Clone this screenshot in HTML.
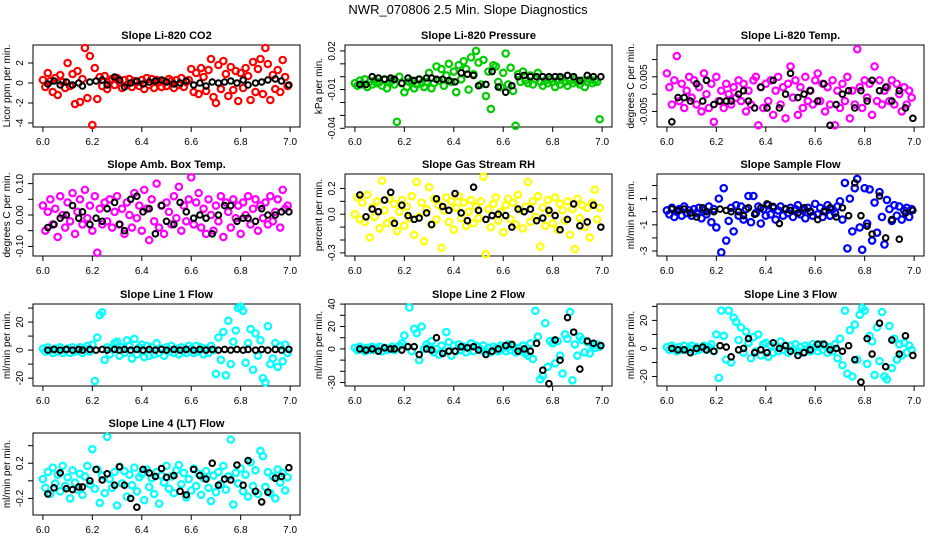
<!DOCTYPE html>
<html><head><meta charset="utf-8"><style>
html,body{margin:0;padding:0;background:#fff;}
svg{display:block;font-family:"Liberation Sans",Arial,sans-serif;}
</style></head><body>
<svg id="chart" width="936" height="540" viewBox="0 0 936 540" xmlns="http://www.w3.org/2000/svg">
<rect width="936" height="540" fill="#fff"/>
<text x="468" y="14" text-anchor="middle" font-size="13">NWR_070806  2.5 Min. Slope Diagnostics</text>
</svg>
<script>
// shared time axis (hours) for colored and black series
const T = [6.00,6.01,6.02,6.03,6.04,6.05,6.06,6.07,6.08,6.09,6.10,6.11,6.12,6.13,6.14,6.15,6.16,6.17,6.18,6.19,6.20,6.21,6.22,6.23,6.24,6.25,6.26,6.27,6.28,6.29,6.30,6.31,6.32,6.33,6.34,6.35,6.36,6.37,6.38,6.39,6.40,6.41,6.42,6.43,6.44,6.45,6.46,6.47,6.48,6.49,6.50,6.51,6.52,6.53,6.54,6.55,6.56,6.57,6.58,6.59,6.60,6.61,6.62,6.63,6.64,6.65,6.66,6.67,6.68,6.69,6.70,6.71,6.72,6.73,6.74,6.75,6.76,6.77,6.78,6.79,6.80,6.81,6.82,6.83,6.84,6.85,6.86,6.87,6.88,6.89,6.90,6.91,6.92,6.93,6.94,6.95,6.96,6.97,6.98,6.99];
const TB = [6.02,6.045,6.07,6.095,6.12,6.145,6.16,6.19,6.215,6.24,6.26,6.29,6.31,6.33,6.355,6.38,6.405,6.43,6.455,6.48,6.50,6.53,6.555,6.58,6.61,6.635,6.66,6.685,6.71,6.735,6.76,6.785,6.81,6.83,6.86,6.885,6.91,6.94,6.965,6.995];
const xTicks = [6.0,6.2,6.4,6.6,6.8,7.0];
const xTickLabels = ["6.0","6.2","6.4","6.6","6.8","7.0"];

const co2C = [0.3,-0.4,1.0,0.2,-0.9,0.5,-1.2,0.8,0.1,-0.5,2.0,-0.3,0.9,-2.1,1.2,-1.9,0.4,3.5,-1.5,2.7,-4.2,1.5,-1.6,0.6,-0.3,0.7,-0.6,0.2,0.4,-0.2,0.5,0.1,-0.5,0.3,-0.2,0.4,-0.4,0.2,0.1,-0.3,0.3,-0.6,0.5,-0.2,0.4,-0.5,0.3,0.1,-0.4,0.2,-0.3,0.4,0.2,-0.5,0.3,-0.2,0.5,-0.4,0.1,0.3,1.4,-0.9,1.0,-1.1,1.5,0.6,-0.8,1.3,2.4,-1.4,-2.0,1.8,-0.6,2.2,0.9,-1.3,1.6,-0.7,1.2,-1.8,1.0,-0.5,1.5,0.7,-1.7,2.1,-0.9,1.4,2.4,-1.1,3.5,1.9,-1.7,0.8,-0.6,1.3,-0.9,2.3,0.6,-0.3];
const co2B = [-0.1,0.2,-0.2,0.1,-0.2,0,-0.3,0.1,0.2,0.3,-0.2,0.6,0.3,-0.4,0,0.2,-0.1,0.1,0.2,0.3,0.1,-0.1,0,0.2,-0.2,0,-0.3,0.1,0,0.1,0.2,0,0.3,-0.2,0,0.1,0.3,0.4,0.2,-0.2];
const presC = [-0.005,-0.007,-0.003,-0.006,-0.002,-0.008,-0.004,-0.006,-0.003,-0.005,-0.004,-0.007,-0.002,-0.009,-0.004,-0.003,-0.006,-0.035,0.0,-0.005,-0.012,-0.008,-0.004,-0.003,-0.009,-0.006,-0.002,-0.005,-0.008,-0.004,0.003,-0.009,-0.005,0.008,-0.003,0.006,-0.007,0.001,0.010,-0.004,0.004,-0.012,0.009,-0.002,0.012,0.006,-0.010,0.015,0.002,0.020,0.011,-0.006,0.013,-0.015,0.004,-0.025,0.009,0.008,-0.004,-0.008,0.003,0.018,-0.006,0.007,-0.011,-0.038,0.002,-0.004,0.004,-0.003,-0.005,0.001,-0.006,-0.002,0.003,-0.004,-0.007,-0.003,-0.005,-0.002,-0.004,-0.008,-0.003,-0.006,-0.001,-0.004,-0.007,-0.003,-0.005,-0.002,-0.004,-0.006,-0.003,-0.008,-0.004,-0.002,-0.005,-0.003,-0.004,-0.033];
const presB = [-0.006,-0.006,0.0,-0.001,-0.002,-0.001,-0.002,-0.005,-0.001,-0.003,-0.002,-0.001,-0.001,-0.002,-0.002,-0.003,-0.004,0.003,0.002,0.001,-0.007,-0.006,0.004,-0.008,-0.012,-0.007,0.0,0.001,0.0,0.0,0.0,0.0,0.0,0.0,0.001,0.0,-0.003,0.001,0.0,0.0];
const ltC = [0.006,0.002,-0.003,0.004,0.011,-0.002,0.003,-0.004,0.001,0.005,-0.001,0.004,-0.003,0.002,-0.005,0.006,0.000,-0.004,0.003,-0.008,0.005,-0.002,0.001,-0.004,0.003,0.000,-0.003,0.002,-0.001,0.004,-0.002,0.003,-0.005,0.001,-0.003,0.004,0.005,-0.009,0.002,-0.004,0.003,-0.002,0.004,-0.006,0.001,0.005,-0.003,0.002,-0.007,0.003,0.008,-0.001,0.004,-0.006,0.002,-0.004,0.005,-0.002,0.001,-0.003,0.004,0.006,-0.002,0.003,-0.005,0.002,-0.003,0.004,-0.009,0.001,-0.004,0.003,-0.002,0.005,-0.007,0.001,-0.003,0.013,0.002,-0.004,0.004,-0.001,0.003,-0.006,0.008,-0.002,0.004,-0.003,0.001,0.002,-0.002,0.004,-0.003,0.003,0.000,-0.005,0.002,-0.003,0.001,-0.001];
const ltB = [-0.008,-0.001,-0.001,-0.002,0.003,-0.002,0.004,-0.003,-0.002,-0.002,-0.002,0.0,0.001,-0.002,-0.004,0.002,-0.004,0.004,-0.004,0.0,0.006,-0.001,0.0,0.001,-0.002,0.003,-0.009,-0.003,0.0,0.001,-0.004,0.001,-0.002,0.004,0.001,0.002,-0.002,0.001,-0.004,-0.007];
const ambC = [0.03,-0.05,0.01,0.05,-0.03,0.02,-0.07,0.06,0.00,-0.04,0.04,-0.02,0.07,-0.06,0.01,0.05,-0.03,0.08,-0.01,0.03,-0.05,0.06,-0.12,0.02,-0.03,0.04,-0.02,0.05,-0.04,0.01,0.06,-0.03,0.02,-0.06,0.04,0.00,-0.04,0.07,-0.01,0.03,-0.05,0.08,0.02,-0.08,0.05,-0.02,0.10,-0.04,0.03,-0.06,0.04,0.01,-0.03,0.06,-0.01,0.09,-0.05,0.03,-0.02,0.05,0.12,-0.03,0.04,0.07,-0.04,0.02,-0.06,0.05,0.00,-0.05,0.03,-0.02,0.06,-0.07,0.04,0.01,-0.04,0.05,-0.01,0.03,-0.06,0.04,0.00,0.06,-0.03,0.02,0.05,-0.05,0.03,-0.01,0.04,-0.03,0.06,-0.02,0.01,0.05,-0.04,0.08,0.02,0.03];
const ambB = [-0.04,-0.03,-0.01,0.0,0.03,-0.01,0.01,-0.03,-0.01,-0.02,0.02,0.04,-0.03,-0.05,0.05,0.06,0.01,0.02,-0.06,0.03,-0.02,-0.03,0.04,0.01,-0.01,0.0,-0.01,-0.06,0.0,0.03,0.03,-0.02,-0.01,-0.01,-0.02,0.02,0.0,0.0,0.01,0.01];
const rhC = [0.0,0.13,-0.04,0.09,-0.06,0.15,-0.18,0.05,-0.02,0.10,-0.11,0.26,0.03,-0.07,0.12,-0.05,0.08,-0.13,0.02,0.11,-0.09,0.06,-0.03,0.14,-0.16,0.25,-0.02,0.09,-0.21,0.04,0.21,-0.08,0.12,-0.04,0.07,-0.26,0.03,0.13,-0.06,0.10,-0.12,0.05,0.14,-0.03,0.09,-0.09,0.02,0.11,-0.07,0.06,-0.03,0.10,0.29,-0.31,0.04,-0.10,0.08,0.13,-0.05,0.02,-0.14,0.07,0.12,-0.04,0.09,-0.08,0.15,0.03,-0.11,0.06,0.25,-0.06,0.10,-0.02,0.14,-0.25,0.05,-0.09,0.11,0.01,-0.07,0.13,-0.12,0.08,0.03,-0.05,0.10,-0.16,0.04,-0.27,0.12,-0.03,0.07,-0.10,0.05,-0.18,0.09,0.19,-0.04,0.05];
const rhB = [0.15,-0.02,0.04,0.02,0.11,0.17,-0.07,0.07,-0.01,-0.04,-0.03,0.01,-0.08,0.12,0.06,0.03,0.16,0.01,-0.05,0.21,0.03,-0.04,-0.01,0.0,-0.01,-0.10,0.04,0.02,0.04,-0.05,-0.03,0.03,-0.01,-0.12,-0.04,0.08,-0.09,-0.06,0.07,-0.10];
const sfC = [0.1,-0.2,0.3,-0.4,0.0,0.2,-0.3,0.4,-0.1,0.1,-0.3,0.2,-0.1,0.3,-0.5,0.1,-0.2,0.4,-0.8,0.2,-1.2,1.0,-3.1,1.8,-2.2,-0.7,0.3,-1.5,0.5,-0.3,0.4,-0.6,0.2,1.2,-0.8,1.2,-0.1,0.4,-0.9,0.2,-0.3,0.5,-0.2,0.3,-0.6,0.1,0.4,-0.3,0.2,-0.1,0.3,-0.4,0.2,0.5,-0.2,0.1,-0.5,0.3,0.0,-0.3,0.6,-0.2,0.3,-0.4,0.1,0.5,-0.3,0.2,-0.1,0.4,0.8,-0.6,2.2,-2.8,1.0,-1.5,1.8,2.5,-1.2,-2.9,1.8,-0.9,1.7,-2.2,0.7,-1.6,1.5,-0.4,-2.5,0.9,0.2,-0.7,0.5,-0.3,0.4,-0.6,0.1,0.3,-0.4,0.2];
const sfB = [0.2,0.1,0.2,-0.1,-0.4,0.3,0.0,0.0,0.2,0.1,0.0,0.0,-0.3,0.3,-0.2,0.3,0.6,0.4,-0.9,0.2,0.1,-0.1,0.3,0.0,-0.6,0.0,0.3,-0.4,0.3,-0.3,2.2,-0.3,-1.1,-1.7,1.2,-2.0,-0.6,-2.1,-0.1,0.1];
const l1C = [1,-1,2,0,-2,1,-1,2,-2,0,1,-2,2,-1,0,2,-2,1,3,-1,4,-22,9,25,27,-7,2,-3,1,5,6,-4,2,-2,7,3,-6,8,-3,2,4,-5,3,-4,2,-3,5,-2,1,-4,2,-1,3,-2,1,-3,2,0,-2,3,1,-2,3,-1,2,-3,1,-2,3,0,-17,9,-7,13,-18,21,-10,6,14,30,31,28,-9,5,15,-14,12,-4,7,-20,-23,17,-10,-6,5,-12,3,-8,4,-2];
const l1B = [0,0.5,0,0.5,0,0.5,0,0.5,0,0.5,0,0.5,0,0.5,0,0.5,0,0.5,0,0.5,0,0.5,0,0.5,0,0.5,0,0.5,0,0.5,0,0.5,0,0.5,0,0.5,0,0.5,0,0.5];
const l2C = [1,-1,2,0,-2,1,-1,2,-1,0,2,-2,1,-1,0,2,-1,1,3,5,12,2,37,-2,18,14,-10,20,0,4,2,7,-3,0,-5,3,-2,15,6,-6,3,-2,4,-1,2,-3,1,5,-2,3,2,-1,3,-2,1,-3,2,0,-2,3,1,-2,4,-1,2,-3,1,-2,3,-4,-6,5,-9,34,11,-27,-24,23,-16,7,5,-13,7,-6,-22,13,9,33,-28,4,-6,11,8,-3,6,-4,3,1,4,2];
const l2B = [0,-1,0,-2,1,0,0,-1,2,2,-5,0,-1,10,-4,-2,-2,2,1,2,-1,-5,-2,0,3,4,-2,0,-2,5,-19,-31,8,-10,28,15,-18,7,5,3];
const l3C = [1,-1,2,0,-2,1,-1,2,-1,0,2,-2,1,-1,0,2,-1,1,3,-2,10,-21,27,9,-8,27,-10,22,19,6,15,-3,12,4,-7,8,-2,10,-5,3,4,-6,2,-3,1,-2,5,-1,2,-3,2,-1,3,-2,1,-3,2,0,-2,3,1,-2,3,-1,2,-3,1,-2,3,-7,7,-12,27,-18,13,-20,17,-8,24,29,27,-11,9,5,-19,15,-9,26,-20,-22,16,-14,7,-8,3,-5,4,-3,2,-1];
const l3B = [0,-1,-1,-3,0,1,-1,-2,2,1,-6,-1,0,7,-3,-1,-3,4,0,2,-2,-5,-3,-1,3,3,-1,0,-2,2,-8,-24,7,-4,18,-13,6,-4,9,-5];
const l4C = [0.02,-0.08,0.10,-0.15,0.15,-0.03,0.07,-0.12,0.17,-0.06,0.04,-0.20,0.12,-0.02,-0.10,0.08,-0.16,0.05,0.17,-0.04,0.36,-0.09,0.13,-0.25,0.06,-0.14,0.50,0.02,-0.08,0.10,-0.28,0.16,-0.03,0.11,-0.18,0.07,-0.05,0.15,-0.12,0.04,0.08,-0.22,0.13,-0.07,0.03,-0.15,0.10,-0.26,0.06,-0.02,0.17,-0.09,0.05,-0.14,0.12,0.18,-0.04,0.09,-0.19,0.02,-0.11,0.14,-0.06,0.08,-0.16,0.03,0.11,-0.08,-0.23,0.06,-0.13,0.10,-0.04,0.17,-0.10,0.05,0.47,-0.27,0.09,-0.03,0.14,-0.12,0.07,-0.18,0.21,-0.06,0.12,-0.15,0.34,0.28,-0.07,0.10,-0.14,0.05,-0.20,0.13,-0.02,0.09,-0.11,0.04];
const l4B = [-0.15,-0.08,0.09,-0.09,-0.10,-0.07,-0.07,0.00,0.13,0.01,0.08,-0.05,0.16,-0.05,-0.20,-0.30,0.13,0.09,0.05,0.14,0.04,0.06,-0.12,-0.16,0.13,0.06,0.02,0.20,-0.05,0.02,0.01,0.18,-0.05,0.23,-0.12,-0.24,-0.13,0.03,0.05,0.15];

const panels = [
 {name:"co2",title:"Slope Li-820 CO2",ylab:"Licor ppm per min.",col:0,row:0,color:"#ff0000",c:co2C,b:co2B,ymin:-4.4,ymax:3.8,ticks:[-4,-2,0,2],labels:["-4","-2","0","2"]},
 {name:"pressure",title:"Slope Li-820 Pressure",ylab:"kPa per min.",col:1,row:0,color:"#00cc00",c:presC,b:presB,ymin:-0.039,ymax:0.0246,ticks:[0.02,0.01,0,-0.01,-0.02,-0.03,-0.04],labels:["0.02","","","-0.01","","","-0.04"]},
 {name:"li-temp",title:"Slope Li-820 Temp.",ylab:"degrees C per min.",col:2,row:0,color:"#ff00ff",c:ltC,b:ltB,ymin:-0.0095,ymax:0.0142,ticks:[0.01,0.005,0,-0.005],labels:["","0.005","","-0.005"]},
 {name:"amb-temp",title:"Slope Amb. Box Temp.",ylab:"degrees C per min.",col:0,row:1,color:"#ff00ff",c:ambC,b:ambB,ymin:-0.1306,ymax:0.1306,ticks:[0.1,0.05,0,-0.05,-0.1],labels:["0.10","","0.00","","-0.10"]},
 {name:"rh",title:"Slope Gas Stream RH",ylab:"percent per min.",col:1,row:1,color:"#ffff00",c:rhC,b:rhB,ymin:-0.324,ymax:0.312,ticks:[0.2,0.1,0,-0.1,-0.2,-0.3],labels:["0.2","","0.0","","","-0.3"]},
 {name:"sample-flow",title:"Slope Sample Flow",ylab:"ml/min per min.",col:2,row:1,color:"#0000ff",c:sfC,b:sfB,ymin:-3.38,ymax:2.88,ticks:[2,1,0,-1,-2,-3],labels:["","1","","-1","","-3"]},
 {name:"line1",title:"Slope Line 1 Flow",ylab:"ml/min per min.",col:0,row:2,color:"#00ffff",c:l1C,b:l1B,ymin:-25.6,ymax:32.9,ticks:[30,20,10,0,-10,-20],labels:["","20","","0","","-20"]},
 {name:"line2",title:"Slope Line 2 Flow",ylab:"ml/min per min.",col:1,row:2,color:"#00ffff",c:l2C,b:l2B,ymin:-33.1,ymax:40.1,ticks:[40,30,20,10,0,-10,-20,-30],labels:["40","","20","","0","","","-30"]},
 {name:"line3",title:"Slope Line 3 Flow",ylab:"ml/min per min.",col:2,row:2,color:"#00ffff",c:l3C,b:l3B,ymin:-26.8,ymax:31.7,ticks:[30,20,10,0,-10,-20],labels:["","20","","0","","-20"]},
 {name:"line4",title:"Slope Line 4 (LT) Flow",ylab:"ml/min per min.",col:0,row:3,color:"#00ffff",c:l4C,b:l4B,ymin:-0.389,ymax:0.544,ticks:[0.4,0.2,0,-0.2],labels:["","0.2","","-0.2"]}
];
const colLeft = [33,345,657], rowTop = [45,174,304,433], PW = 267, PH = 82;
const NS = "http://www.w3.org/2000/svg";
const svg = document.getElementById('chart');
function mk(tag, attrs, parent){ const e=document.createElementNS(NS,tag); for(const k in attrs) e.setAttribute(k,attrs[k]); (parent||svg).appendChild(e); return e; }

panels.forEach(p=>{
  const L = colLeft[p.col], Tp = rowTop[p.row], B = Tp+PH;
  const xs = v => L + PW*0.04/1.08 + (v-6.0)*PW/1.08;
  const ys = v => B - (v-p.ymin)/(p.ymax-p.ymin)*PH;
  const g = mk('g',{});
  
  
  const t = mk('text',{x:L+PW/2,y:Tp-6,'text-anchor':'middle','font-size':'11','font-weight':'bold'},g);
  t.textContent = p.title;
  
  
  const box = mk('rect',{x:L,y:Tp,width:PW,height:PH,fill:'none',stroke:'#000','stroke-width':'1'},g);
  
  
  xTicks.forEach((v,i)=>{
    const ln = mk('line',{x1:xs(v),x2:xs(v),y1:B,y2:B+5,stroke:'#000'},g);
    
    
    const tl = mk('text',{x:xs(v),y:B+18,'text-anchor':'middle','font-size':'10'},g);
    tl.textContent = xTickLabels[i];
    
    
  });
  p.ticks.forEach((v,i)=>{
    const yy = ys(v);
    const ln = mk('line',{x1:L-5,x2:L,y1:yy,y2:yy,stroke:'#000'},g);
    
    
    if(p.labels[i]){
      const tl = mk('text',{x:L-10,y:yy,'text-anchor':'middle','font-size':'10',transform:`rotate(-90 ${L-10} ${yy})`},g);
      tl.textContent = p.labels[i];
      
      
    }
  });
  const yl = mk('text',{x:L-23,y:Tp+PH/2,'text-anchor':'middle','font-size':'10',transform:`rotate(-90 ${L-23} ${Tp+PH/2})`},g);
  yl.textContent = p.ylab;
  
  
  p.c.forEach((v,i)=>{
    const c = mk('circle',{cx:xs(T[i]),cy:ys(v),r:3.2,fill:'none',stroke:p.color,'stroke-width':'2.2'},g);
    
    
  });
  p.b.forEach((v,i)=>{
    const c = mk('circle',{cx:xs(TB[i]),cy:ys(v),r:2.8,fill:'none',stroke:'#000','stroke-width':'2'},g);
    
    
  });
});
</script>
</body></html>
